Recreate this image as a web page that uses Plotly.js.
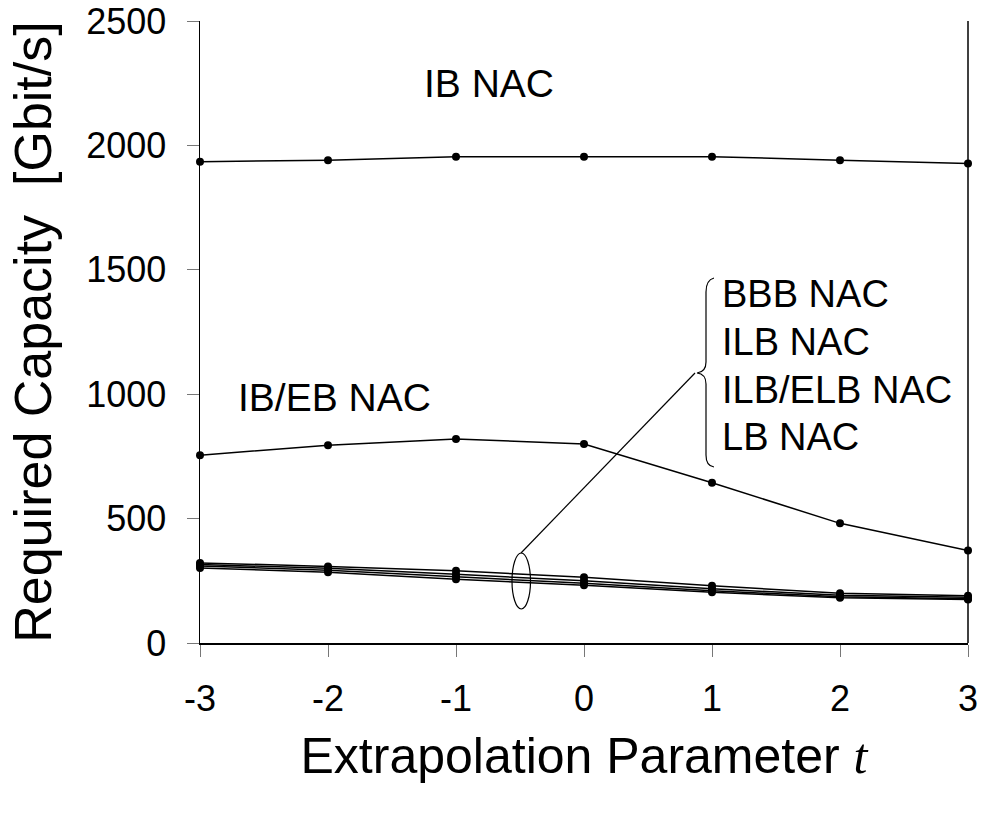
<!DOCTYPE html>
<html>
<head>
<meta charset="utf-8">
<script src="https://cdn.plot.ly/plotly-3.0.1.min.js"></script>
<style>html,body{margin:0;padding:0;background:#fff;}#chart{width:983px;height:814px;}</style>
</head>
<body>
<div id="chart"></div>
<script>
// Data
const t = [-3, -2, -1, 0, 1, 2, 3];
const ibNac = [1935, 1941, 1955, 1955, 1955, 1941, 1928];
const ibEbNac = [755, 795, 820, 800, 644, 481, 372];
const bbbNac = [322, 308, 290, 264, 230, 200, 190];
const ilbNac = [316, 300, 276, 250, 218, 192, 184];
const ilbElbNac = [310, 292, 266, 240, 210, 186, 178];
const lbNac = [302, 284, 256, 232, 204, 182, 175];
const seriesNames = ['IB NAC', 'IB/EB NAC', 'BBB NAC', 'ILB NAC', 'ILB/ELB NAC', 'LB NAC'];
const seriesValues = [ibNac, ibEbNac, bbbNac, ilbNac, ilbElbNac, lbNac];
const groupLabels = ['BBB NAC', 'ILB NAC', 'ILB/ELB NAC', 'LB NAC'];
const yTicks = [0, 500, 1000, 1500, 2000, 2500];

const FONT = '"Liberation Sans", Arial, Helvetica, sans-serif';

// plot frame geometry (pixels) used only for decorations
const L = 200, R = 968, T = 21, B = 643;
const X0 = -3, X1 = 3, Y0 = 0, Y1 = 2500.5;
const px2x = p => X0 + (p - L) / (R - L) * (X1 - X0);
const py2y = p => Y0 + (B - p) / (B - T) * (Y1 - Y0);

const traces = seriesValues.map((v, i) => ({
  x: t, y: v, name: seriesNames[i], type: 'scatter', mode: 'lines+markers',
  line: {color: '#000', width: 1.5},
  marker: {color: '#000', size: 8},
  cliponaxis: false
}));

// brace path in pixel space -> data
function P(x, y) { return px2x(x).toFixed(5) + ',' + py2y(y).toFixed(3); }
const bracePath = 'M' + P(714, 278) + ' Q' + P(706, 280) + ' ' + P(706, 292) +
  ' L' + P(706, 362) + ' Q' + P(706, 372) + ' ' + P(697, 373) +
  ' Q' + P(706, 374) + ' ' + P(706, 384) + ' L' + P(706, 455) +
  ' Q' + P(706, 466) + ' ' + P(714, 467);

const annotations = [
  {x: px2x(489), y: py2y(83), text: 'IB NAC', showarrow: false, xanchor: 'center', yanchor: 'middle', font: {family: FONT, size: 39, color: '#000'}},
  {x: px2x(334), y: py2y(397), text: 'IB/EB NAC', showarrow: false, xanchor: 'center', yanchor: 'middle', font: {family: FONT, size: 39, color: '#000'}}
];
const rowY = [294, 342, 390, 437];
groupLabels.forEach((lab, i) => {
  annotations.push({x: px2x(720), y: py2y(rowY[i]), text: lab, showarrow: false, xanchor: 'left', yanchor: 'middle', font: {family: FONT, size: 38, color: '#000'}});
});

const shapes = [
  {type: 'line', xref: 'paper', yref: 'paper', x0: 1, x1: 1, y0: 0, y1: 1, line: {color: '#000', width: 1.5}},
  {type: 'path', xref: 'x', yref: 'y', path: bracePath, line: {color: '#000', width: 1.2}},
  {type: 'line', xref: 'x', yref: 'y', x0: px2x(695), y0: py2y(373), x1: px2x(521), y1: py2y(553), line: {color: '#000', width: 1.2}},
  {type: 'circle', xref: 'x', yref: 'y', x0: px2x(512), x1: px2x(530.5), y0: py2y(553), y1: py2y(609), line: {color: '#000', width: 1.2}}
];

const layout = {
  width: 983, height: 814,
  margin: {l: L, r: 983 - R, t: T, b: 814 - B, pad: 0},
  paper_bgcolor: '#fff', plot_bgcolor: '#fff',
  showlegend: false,
  font: {family: FONT, color: '#000'},
  xaxis: {
    range: [X0, X1], tickmode: 'array', tickvals: t, ticktext: t.map(String),
    showgrid: false, zeroline: false, showline: true, linecolor: '#000', linewidth: 1.5,
    ticks: 'outside', ticklen: 12, tickwidth: 1, tickcolor: '#777',
    tickfont: {family: FONT, size: 36, color: '#000'}, ticklabelstandoff: 11, ticklabeloverflow: 'allow',
    title: {text: 'Extrapolation Parameter <span style="font-family:\'Liberation Serif\', \'Times New Roman\', serif;font-style:italic">t</span>', font: {family: FONT, size: 50, color: '#000'}, standoff: 20}
  },
  yaxis: {
    range: [Y0, Y1], tickmode: 'array', tickvals: yTicks, ticktext: yTicks.map(String),
    showgrid: false, zeroline: false, showline: true, linecolor: '#000', linewidth: 1.5,
    ticks: 'outside', ticklen: 12, tickwidth: 1, tickcolor: '#777',
    tickfont: {family: FONT, size: 36, color: '#000'}, ticklabelstandoff: 13, ticklabeloverflow: 'allow',
    title: {text: 'Required Capacity  [Gbit/s]', font: {family: FONT, size: 52, color: '#000'}, standoff: 18}
  },
  annotations: annotations,
  shapes: shapes
};

Plotly.newPlot('chart', traces, layout, {displayModeBar: false, staticPlot: true});
</script>
</body>
</html>
